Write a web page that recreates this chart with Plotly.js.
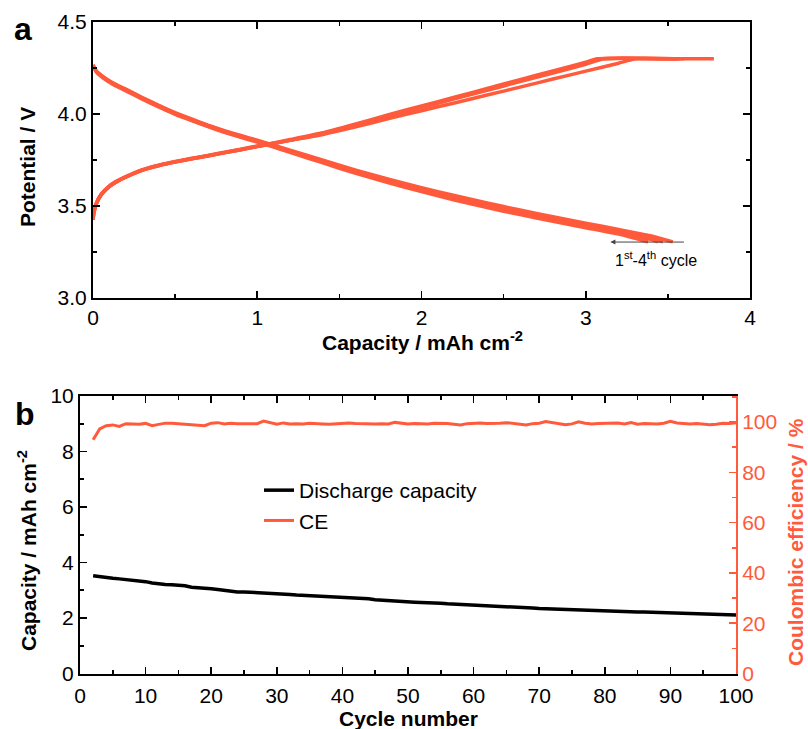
<!DOCTYPE html>
<html>
<head>
<meta charset="utf-8">
<script src="https://cdn.plot.ly/plotly-3.0.1.min.js"></script>
<style>html,body{margin:0;padding:0;background:#fff;}#chart{width:808px;height:729px;}</style>
</head>
<body>
<div id="chart"></div>
<script>
// ---------- Panel a: charge / discharge profiles (cycles 1-4) ----------
const chg1Cap = [0, 0.005, 0.02, 0.05, 0.1, 0.15, 0.2, 0.3, 0.4, 0.5, 0.6, 0.7, 0.8, 0.9, 1.0, 1.1, 1.2, 1.4, 1.6, 1.8, 2.0, 2.2, 2.4, 2.6, 2.8, 3.0, 3.2, 3.30, 3.5, 3.78];
const chg1V   = [3.425, 3.46, 3.51, 3.56, 3.605, 3.635, 3.658, 3.695, 3.72, 3.74, 3.757, 3.773, 3.79, 3.806, 3.823, 3.84, 3.857, 3.889, 3.93, 3.975, 4.018, 4.06, 4.103, 4.146, 4.19, 4.233, 4.276, 4.30, 4.30, 4.30];
const chg2Cap = [0, 0.005, 0.02, 0.05, 0.1, 0.15, 0.2, 0.3, 0.4, 0.5, 0.6, 0.7, 0.8, 0.9, 1.0, 1.1, 1.2, 1.4, 1.6, 1.8, 2.0, 2.2, 2.4, 2.6, 2.8, 3.0, 3.07, 3.6];
const chg2V   = [3.43, 3.465, 3.515, 3.565, 3.61, 3.638, 3.66, 3.697, 3.722, 3.742, 3.759, 3.775, 3.792, 3.809, 3.826, 3.843, 3.861, 3.898, 3.946, 3.996, 4.044, 4.091, 4.139, 4.187, 4.234, 4.281, 4.30, 4.30];
const chg3Cap = [0, 0.005, 0.02, 0.05, 0.1, 0.15, 0.2, 0.3, 0.4, 0.5, 0.6, 0.7, 0.8, 0.9, 1.0, 1.1, 1.2, 1.4, 1.6, 1.8, 2.0, 2.2, 2.4, 2.6, 2.8, 3.0, 3.09, 3.57];
const chg3V   = [3.428, 3.463, 3.513, 3.563, 3.608, 3.636, 3.658, 3.695, 3.72, 3.74, 3.757, 3.773, 3.79, 3.807, 3.824, 3.841, 3.858, 3.894, 3.942, 3.991, 4.039, 4.086, 4.133, 4.181, 4.228, 4.276, 4.30, 4.30];
const chg4Cap = [0, 0.005, 0.02, 0.05, 0.1, 0.15, 0.2, 0.3, 0.4, 0.5, 0.6, 0.7, 0.8, 0.9, 1.0, 1.1, 1.2, 1.4, 1.6, 1.8, 2.0, 2.2, 2.4, 2.6, 2.8, 3.0, 3.11, 3.55];
const chg4V   = [3.427, 3.462, 3.512, 3.562, 3.607, 3.635, 3.657, 3.694, 3.719, 3.739, 3.756, 3.772, 3.789, 3.806, 3.823, 3.840, 3.857, 3.892, 3.939, 3.988, 4.035, 4.082, 4.129, 4.176, 4.223, 4.270, 4.30, 4.30];

const dis1Cap = [0, 0.02, 0.06, 0.12, 0.2, 0.3, 0.4, 0.5, 0.6, 0.7, 0.8, 0.9, 1.0, 1.1, 1.2, 1.4, 1.6, 1.8, 2.0, 2.2, 2.4, 2.6, 2.8, 3.0, 3.2, 3.4, 3.53];
const dis1V   = [4.266, 4.235, 4.205, 4.17, 4.135, 4.09, 4.047, 4.007, 3.973, 3.94, 3.91, 3.883, 3.858, 3.831, 3.804, 3.749, 3.695, 3.646, 3.600, 3.557, 3.516, 3.478, 3.442, 3.407, 3.372, 3.337, 3.305];
const dis2Cap = [0, 0.02, 0.06, 0.12, 0.2, 0.3, 0.4, 0.5, 0.6, 0.7, 0.8, 0.9, 1.0, 1.1, 1.2, 1.4, 1.6, 1.8, 2.0, 2.2, 2.4, 2.6, 2.8, 3.0, 3.2, 3.4, 3.47];
const dis2V   = [4.266, 4.233, 4.202, 4.167, 4.132, 4.087, 4.044, 4.004, 3.970, 3.937, 3.907, 3.879, 3.854, 3.827, 3.799, 3.743, 3.688, 3.638, 3.591, 3.547, 3.505, 3.467, 3.431, 3.396, 3.361, 3.325, 3.305];
const dis3Cap = [0, 0.02, 0.06, 0.12, 0.2, 0.3, 0.4, 0.5, 0.6, 0.7, 0.8, 0.9, 1.0, 1.1, 1.2, 1.4, 1.6, 1.8, 2.0, 2.2, 2.4, 2.6, 2.8, 3.0, 3.2, 3.4, 3.44];
const dis3V   = [4.265, 4.231, 4.200, 4.165, 4.129, 4.084, 4.041, 4.001, 3.967, 3.934, 3.904, 3.876, 3.851, 3.824, 3.795, 3.739, 3.683, 3.632, 3.585, 3.541, 3.499, 3.461, 3.425, 3.390, 3.355, 3.318, 3.305];
const dis4Cap = [0, 0.02, 0.06, 0.12, 0.2, 0.3, 0.4, 0.5, 0.6, 0.7, 0.8, 0.9, 1.0, 1.1, 1.2, 1.4, 1.6, 1.8, 2.0, 2.2, 2.4, 2.6, 2.8, 3.0, 3.2, 3.38];
const dis4V   = [4.264, 4.229, 4.197, 4.162, 4.126, 4.081, 4.038, 3.998, 3.964, 3.931, 3.901, 3.873, 3.847, 3.820, 3.791, 3.734, 3.677, 3.626, 3.578, 3.533, 3.491, 3.453, 3.417, 3.382, 3.347, 3.305];

// ---------- Panel b: cycling ----------
const cycles = [2,3,4,5,6,7,8,9,10,11,12,13,14,15,16,17,18,19,20,21,22,23,24,25,26,27,28,29,30,31,32,33,34,35,36,37,38,39,40,41,42,43,44,45,46,47,48,49,50,51,52,53,54,55,56,57,58,59,60,61,62,63,64,65,66,67,68,69,70,71,72,73,74,75,76,77,78,79,80,81,82,83,84,85,86,87,88,89,90,91,92,93,94,95,96,97,98,99,100];
const dischargeCap = [3.52, 3.48, 3.45, 3.43, 3.41, 3.39, 3.37, 3.35, 3.31,
  3.26, 3.22, 3.21, 3.20, 3.19, 3.16, 3.11, 3.08, 3.07, 3.05,
  3.03, 3.00, 2.96, 2.94, 2.94, 2.93, 2.91, 2.89, 2.88, 2.87,
  2.86, 2.85, 2.83, 2.82, 2.81, 2.80, 2.79, 2.77, 2.75, 2.74,
  2.73, 2.72, 2.71, 2.69, 2.66, 2.64, 2.63, 2.62, 2.61, 2.59,
  2.57, 2.56, 2.56, 2.55, 2.53, 2.51, 2.50, 2.50, 2.49, 2.48,
  2.46, 2.45, 2.44, 2.43, 2.43, 2.42, 2.40, 2.38, 2.36, 2.34,
  2.33, 2.34, 2.34, 2.32, 2.30, 2.28, 2.27, 2.27, 2.28, 2.27,
  2.26, 2.25, 2.24, 2.23, 2.22, 2.22, 2.21, 2.20, 2.19, 2.18,
  2.17, 2.16, 2.17, 2.17, 2.15, 2.14, 2.13, 2.12, 2.11, 2.11];
const coulombicEff = [93.0, 97.3, 98.6, 98.9, 98.3, 99.4, 99.3, 99.2, 99.5, 98.6,
  99.1, 99.6, 99.6, 99.4, 99.3, 99.2, 99.0, 98.6, 99.6, 99.8,
  99.3, 99.6, 99.4, 99.5, 99.3, 99.4, 100.4, 99.8, 99.2, 99.7,
  99.3, 99.4, 99.3, 99.6, 99.6, 99.3, 99.2, 99.4, 99.6, 99.7,
  99.5, 99.4, 99.2, 99.3, 99.4, 99.3, 99.9, 99.6, 99.3, 99.5,
  99.4, 99.3, 99.6, 99.7, 99.5, 99.2, 98.9, 99.4, 99.6, 99.7,
  99.5, 99.4, 99.6, 99.8, 99.5, 99.3, 98.9, 99.4, 99.6, 100.2,
  99.8, 99.4, 99.0, 99.3, 100.1, 99.6, 99.3, 99.5, 99.6, 99.4,
  99.7, 99.3, 99.8, 99.2, 99.5, 99.4, 99.3, 99.6, 100.3, 99.7,
  99.4, 99.3, 99.5, 99.3, 99.0, 99.2, 99.6, 99.5, 99.8];

const topXTicks = [0, 1, 2, 3, 4];
const topYTicks = [3.0, 3.5, 4.0, 4.5];
const topYTickText = ['3.0', '3.5', '4.0', '4.5'];
const botXTicks = [0, 10, 20, 30, 40, 50, 60, 70, 80, 90, 100];
const botYTicks = [0, 2, 4, 6, 8, 10];
const ceTicks = [0, 20, 40, 60, 80, 100];

// ---------- styling ----------
const W = 808, H = 729;
const px = x => x / W;
const py = y => 1 - y / H;
const RED = '#FF5A3C';
const FONT = 'Liberation Sans, Arial, sans-serif';

const profLine = {color: RED, width: 3.5, shape: 'spline', smoothing: 0.45};
function prof(x, y) {
  return {x: x, y: y, type: 'scatter', mode: 'lines', line: profLine, xaxis: 'x', yaxis: 'y', showlegend: false, hoverinfo: 'skip'};
}

const traces = [
  prof(chg1Cap, chg1V), prof(chg2Cap, chg2V), prof(chg3Cap, chg3V), prof(chg4Cap, chg4V),
  prof(dis1Cap, dis1V), prof(dis2Cap, dis2V), prof(dis3Cap, dis3V), prof(dis4Cap, dis4V),
  {x: cycles, y: dischargeCap, type: 'scatter', mode: 'lines', name: 'Discharge capacity',
   line: {color: '#000', width: 3.5}, xaxis: 'x2', yaxis: 'y2'},
  {x: cycles, y: coulombicEff, type: 'scatter', mode: 'lines', name: 'CE',
   line: {color: RED, width: 3}, xaxis: 'x2', yaxis: 'y3'}
];

const tickFont = {family: FONT, size: 21, color: '#000'};
const minorBlack = {ticks: 'inside', ticklen: 4, tickwidth: 1.6, tickcolor: '#000'};
const common = {
  showgrid: false, zeroline: false, showline: true, linecolor: '#000', linewidth: 2,
  ticks: 'inside', ticklen: 7, tickwidth: 1.6, tickcolor: '#000', tickfont: tickFont
};

function ann(text, x, y, size, color, angle) {
  return {text: text, xref: 'paper', yref: 'paper', x: px(x), y: py(y), xanchor: 'center', yanchor: 'middle',
          showarrow: false, textangle: angle || 0, font: {family: FONT, size: size, color: color}};
}

const layout = {
  width: W, height: H,
  margin: {l: 0, r: 0, t: 0, b: 0},
  paper_bgcolor: '#fff', plot_bgcolor: 'rgba(0,0,0,0)',
  font: {family: FONT, color: '#000'},
  xaxis: Object.assign({}, common, {
    domain: [px(93), px(750)], anchor: 'y', range: [0, 4], tickvals: topXTicks,
    mirror: 'ticks', minor: Object.assign({dtick: 0.5}, minorBlack)
  }),
  yaxis: Object.assign({}, common, {
    domain: [py(298), py(22)], anchor: 'x', range: [3.0, 4.5], tickvals: topYTicks, ticktext: topYTickText,
    mirror: 'ticks', minor: Object.assign({dtick: 0.25}, minorBlack)
  }),
  xaxis2: Object.assign({}, common, {
    domain: [px(80), px(736)], anchor: 'y2', range: [0, 100], tickvals: botXTicks,
    mirror: 'ticks', ticklabelstandoff: 2, minor: Object.assign({dtick: 5}, minorBlack)
  }),
  yaxis2: Object.assign({}, common, {
    domain: [py(673.5), py(396)], anchor: 'x2', range: [0, 10], tickvals: botYTicks,
    minor: Object.assign({dtick: 1}, minorBlack)
  }),
  yaxis3: Object.assign({}, common, {
    overlaying: 'y2', side: 'right', anchor: 'x2', range: [0, 110.4], tickvals: ceTicks,
    linecolor: RED, tickcolor: RED, tickfont: {family: FONT, size: 21, color: RED},
    minor: {dtick: 10, ticks: 'inside', ticklen: 4, tickwidth: 1.6, tickcolor: RED}
  }),
  showlegend: true,
  legend: {
    x: px(259), y: py(470), xanchor: 'left', yanchor: 'top',
    font: {family: FONT, size: 21, color: '#000'}, bgcolor: 'rgba(0,0,0,0)',
    tracegroupgap: 0
  },
  annotations: [
    ann('<b>a</b>', 23, 29, 32, '#000'),
    ann('<b>b</b>', 25, 414, 32, '#000'),
    ann('<b>Potential / V</b>', 27, 167, 21, '#000', -90),
    ann('<b>Capacity / mAh cm<sup>-2</sup></b>', 422, 341, 21, '#000'),
    ann('<b>Capacity / mAh cm<sup>-2</sup></b>', 27, 551, 21, '#000', -90),
    ann('<b>Coulombic efficiency / %</b>', 795, 542, 21, RED, -90),
    ann('<b>Cycle number</b>', 408, 718, 21, '#000'),
    {text: '', xref: 'x', yref: 'y', x: 3.15, y: 3.304, ax: 75, ay: 0, showarrow: true,
     arrowhead: 2, arrowsize: 1, arrowwidth: 1, arrowcolor: '#444'},
    {text: '1<sup>st</sup>-4<sup>th</sup> cycle', xref: 'x', yref: 'y', x: 3.43, y: 3.21,
     xanchor: 'center', yanchor: 'middle', showarrow: false, font: {family: FONT, size: 16, color: '#000'}}
  ]
};

Plotly.newPlot('chart', traces, layout, {displayModeBar: false, staticPlot: true});
</script>
</body>
</html>
